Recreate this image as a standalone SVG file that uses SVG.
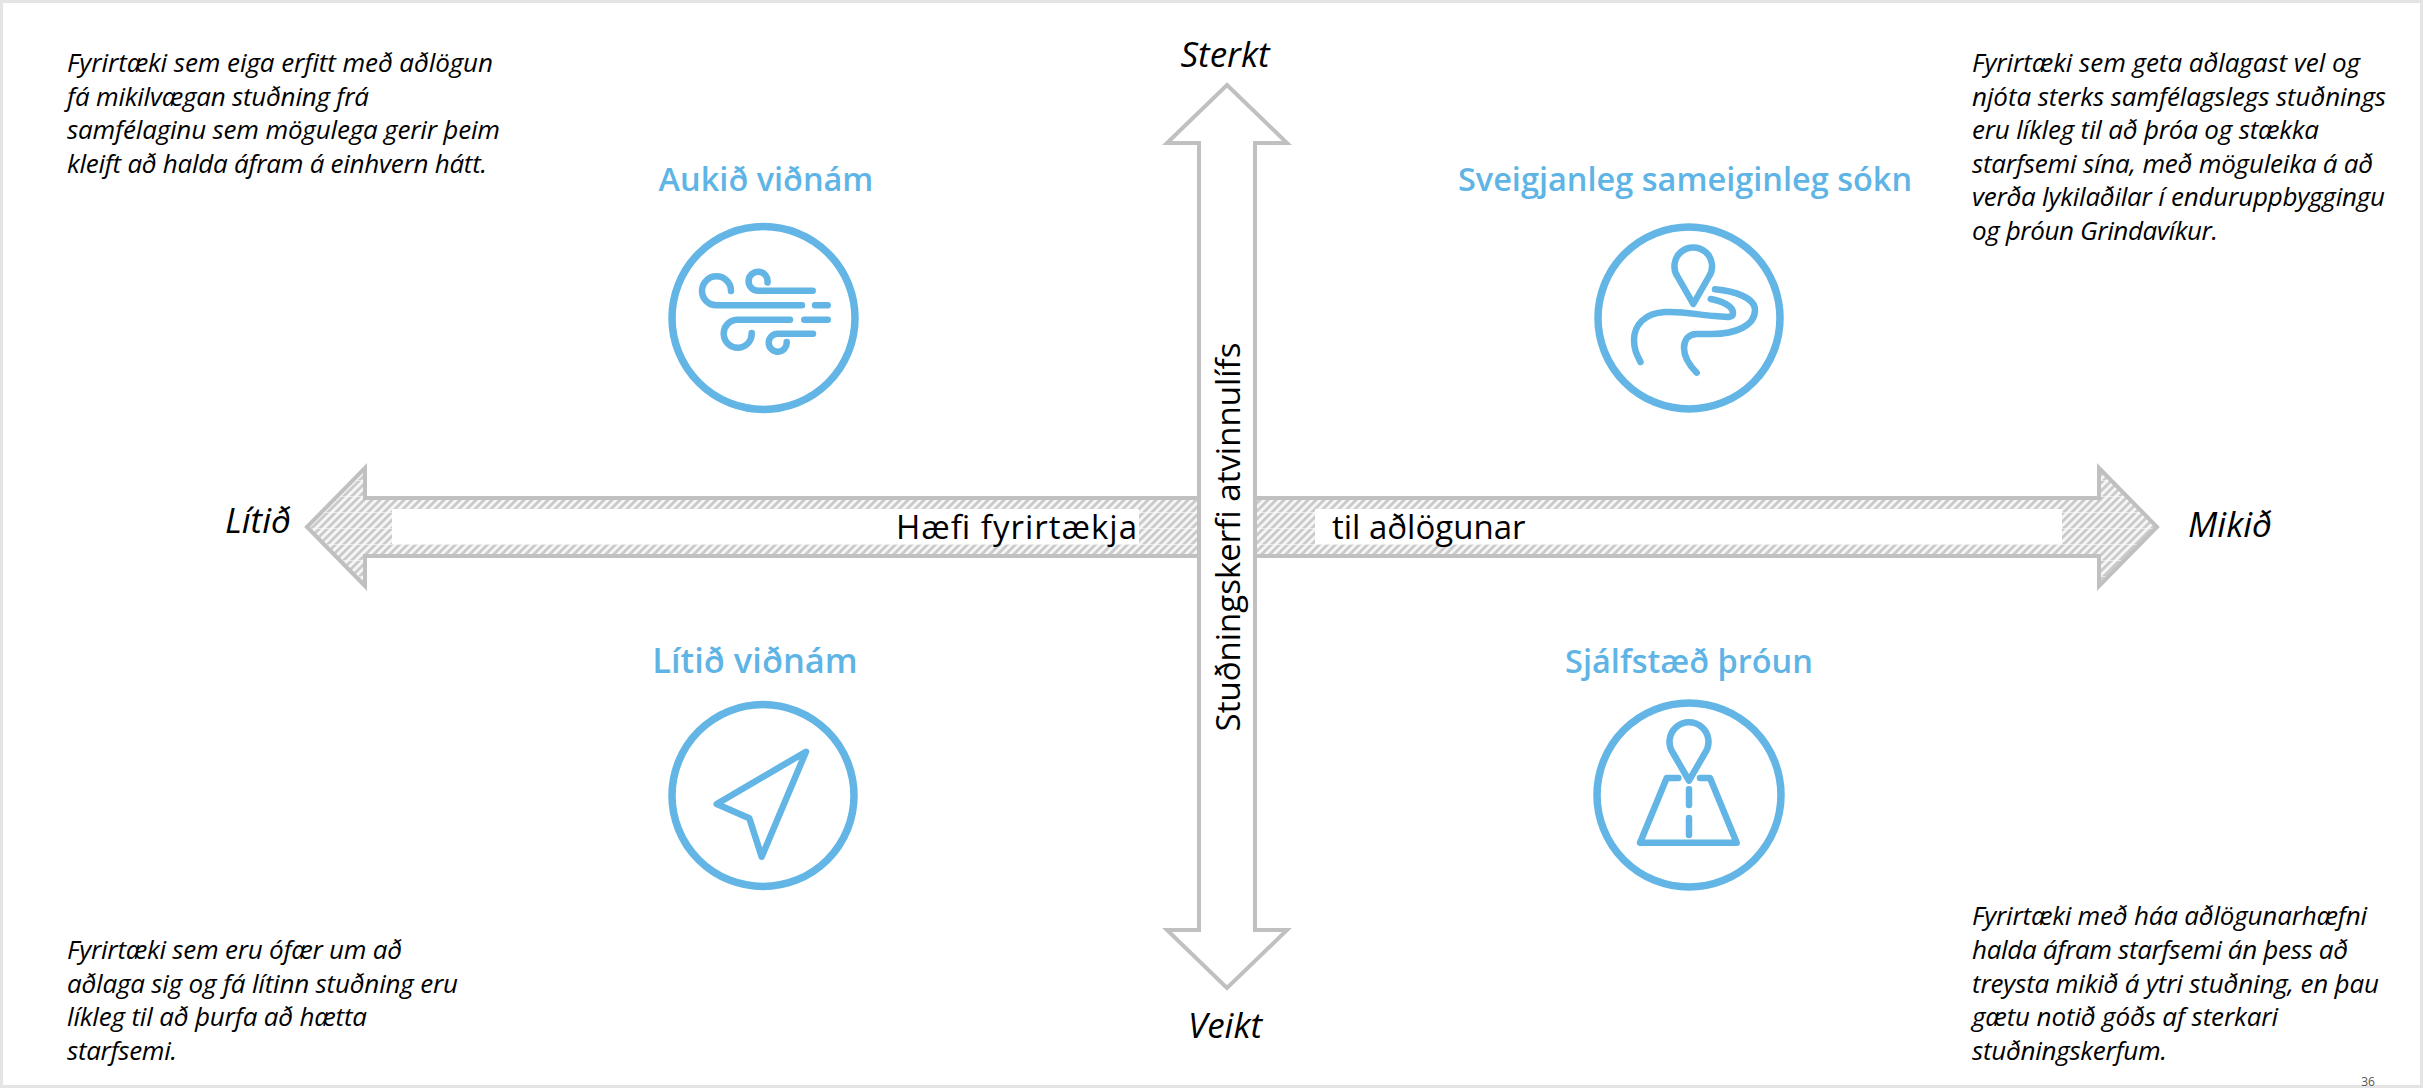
<svg xmlns="http://www.w3.org/2000/svg" width="2423" height="1088" viewBox="0 0 2423 1088">
<style>
text{font-family:"Open Sans","Noto Sans","Liberation Sans",sans-serif;fill:#000}
.note{font-size:26px;font-style:italic}
.axis{font-size:35px;font-style:italic}
.lab{font-size:33px}
.title{font-size:32.5px;font-weight:600;fill:#5FB4E6;text-anchor:middle}
.ic{fill:none;stroke:#62B5E5;stroke-width:6.5;stroke-linecap:round;stroke-linejoin:round}
.ring{fill:#fff;stroke:#62B5E5;stroke-width:7.5}
.arrow{stroke:#C0C0C0;stroke-width:4;stroke-linejoin:miter}
</style>
<defs>
<pattern id="hatch" width="8" height="16" patternUnits="userSpaceOnUse">
<rect width="8" height="16" fill="#F6F6F6"/>
<path d="M-2 2L2 -2M-2 10L10 -2M-2 18L18 -2M6 18L10 14" stroke="#CACACA" stroke-width="2.8"/>
<rect width="8" height="1" fill="#fff" opacity=".55"/>
</pattern>
</defs>
<rect width="2423" height="1088" fill="#fff"/>
<rect x="1.5" y="1.5" width="2420" height="1085" fill="none" stroke="#E4E4E4" stroke-width="3"/>
<g id="connectors">
<g id="axis-horizontal">
<path class="arrow" fill="url(#hatch)" d="M307 527L365 468V498H2099V468L2157 527L2099 586V556H365V586Z"/>
<rect x="392" y="509" width="747" height="35" fill="#fff"/>
<rect x="1315" y="509" width="747" height="35" fill="#fff"/>
</g>
<path id="axis-vertical" class="arrow" fill="#fff" d="M1227 85L1287 143H1255V930H1287L1227 988L1167 930H1199V143H1167Z"/>
</g>
<g id="axis-labels">
<text class="axis" x="1225" y="67" text-anchor="middle">Sterkt</text>
<text class="axis" x="1225" y="1038" text-anchor="middle">Veikt</text>
<text class="axis" x="225" y="533">Lítið</text>
<text class="axis" x="2188" y="537">Mikið</text>
<text class="lab" x="896" y="539" textLength="241">Hæfi fyrirtækja</text>
<text class="lab" x="1332" y="539">til aðlögunar</text>
<text class="lab" transform="translate(1240 537) rotate(-90)" text-anchor="middle">Stuðningskerfi atvinnulífs</text>
</g>
<g id="node-aukid">
<text class="title" x="766" y="191">Aukið viðnám</text>
<circle class="ring" cx="763.5" cy="318" r="91.5"/>
<path class="ic" d="M731 291A14.5 14.5 0 1 0 717 305.300H802M767.500 282.500A9.500 9.500 0 1 0 758 290.700H812.700M815 305.300H827.700M790 319.700H737A14 14 0 1 0 751.700 333M804.300 319.700H827.700M813 333.700H778A9 9 0 1 0 786.700 342"/>
</g>
<g id="node-sveigjanleg">
<text class="title" x="1685" y="191">Sveigjanleg sameiginleg sókn</text>
<circle class="ring" cx="1689" cy="318" r="91"/>
<path class="ic" d="M1693.300 304L1677.500 276.500A18.800 18.800 0 1 1 1709 276.500ZM1710.700 299C1722 301 1733 306 1733 313C1733 319 1725 316.500 1715 316C1700 315.500 1685 311 1665 312C1645 313 1634 325 1634 340C1634 350 1637 355 1640.500 362M1715 289.300C1735 291 1755 298 1755 310C1755 326 1735 334 1712 334L1697 334C1688 334 1684 340 1684 348C1684 357 1690 366 1696.700 372.700"/>
</g>
<g id="node-litid">
<text class="title" x="755" y="673" font-size="34" style="font-size:34.500px">Lítið viðnám</text>
<circle class="ring" cx="763" cy="795.500" r="91"/>
<path class="ic" d="M806 751.700L716.700 804L749.300 818.300L761.700 856.700Z"/>
</g>
<g id="node-sjalfstaed">
<text class="title" x="1689" y="673">Sjálfstæð þróun</text>
<circle class="ring" cx="1689" cy="795" r="92"/>
<path class="ic" d="M1689 780.700L1673 753A19.500 19.500 0 1 1 1705 753ZM1678.300 778H1666.700L1640 842.700H1736.700L1710 778H1700M1689 789.300V805M1689 818V835"/>
</g>
<g id="notes">
<text class="note"><tspan x="67" y="71.500" textLength="426">Fyrirtæki sem eiga erfitt með aðlögun</tspan></text>
<text class="note"><tspan x="67" y="105.500" textLength="302">fá mikilvægan stuðning frá</tspan></text>
<text class="note"><tspan x="67" y="139" textLength="433">samfélaginu sem mögulega gerir þeim</tspan></text>
<text class="note"><tspan x="67" y="172.500" textLength="420">kleift að halda áfram á einhvern hátt.</tspan></text>
<text class="note"><tspan x="1972" y="71.500" textLength="388">Fyrirtæki sem geta aðlagast vel og</tspan></text>
<text class="note"><tspan x="1972" y="105.500" textLength="414">njóta sterks samfélagslegs stuðnings</tspan></text>
<text class="note"><tspan x="1972" y="139" textLength="347">eru líkleg til að þróa og stækka</tspan></text>
<text class="note"><tspan x="1972" y="172.500" textLength="401">starfsemi sína, með möguleika á að</tspan></text>
<text class="note"><tspan x="1972" y="206" textLength="413">verða lykilaðilar í enduruppbyggingu</tspan></text>
<text class="note"><tspan x="1972" y="239.500" textLength="246">og þróun Grindavíkur.</tspan></text>
<text class="note"><tspan x="67" y="959" textLength="335">Fyrirtæki sem eru ófær um að</tspan></text>
<text class="note"><tspan x="67" y="992.500" textLength="391">aðlaga sig og fá lítinn stuðning eru</tspan></text>
<text class="note"><tspan x="67" y="1026" textLength="300">líkleg til að þurfa að hætta</tspan></text>
<text class="note"><tspan x="67" y="1060" textLength="110">starfsemi.</tspan></text>
<text class="note"><tspan x="1972" y="925" textLength="395">Fyrirtæki með háa aðlögunarhæfni</tspan></text>
<text class="note"><tspan x="1972" y="959" textLength="376">halda áfram starfsemi án þess að</tspan></text>
<text class="note"><tspan x="1972" y="992.500" textLength="407">treysta mikið á ytri stuðning, en þau</tspan></text>
<text class="note"><tspan x="1972" y="1026" textLength="306">gætu notið góðs af sterkari</tspan></text>
<text class="note"><tspan x="1972" y="1060" textLength="195">stuðningskerfum.</tspan></text>
</g>
<text id="page-number" x="2368" y="1086" font-size="12" text-anchor="middle" style="fill:#555">36</text>
</svg>
